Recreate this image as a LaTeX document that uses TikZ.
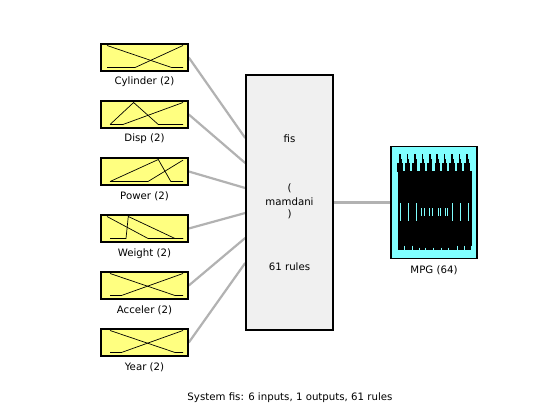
\documentclass[tikz,border=0pt]{standalone}
\usepackage{fontspec}
\setmainfont{DejaVu Sans}
\definecolor{mfyellow}{RGB}{255,255,128}
\definecolor{fisgray}{RGB}{240,240,240}
\definecolor{outcyan}{RGB}{128,255,255}
\definecolor{wiregray}{RGB}{178,178,178}
\tikzset{
  inbox/.style={draw=black,line width=1.6pt,fill=mfyellow,minimum width=87pt,minimum height=27pt,inner sep=0pt},
  fisbox/.style={draw=black,line width=1.6pt,fill=fisgray,minimum width=87pt,minimum height=255pt,inner sep=0pt},
  outbox/.style={draw=black,line width=1.6pt,fill=outcyan,minimum width=86pt,minimum height=112pt,inner sep=0pt},
  lbl/.style={font=\fontsize{10.2}{12}\selectfont,inner sep=0pt},
  wire/.style={draw=wiregray,line width=2.2pt},
  mfline/.style={draw=black,line width=0.7pt},
}
\newcommand{\mfplot}[2]{% center y, path
  \begin{scope}[xshift=107pt,yshift=-#1pt-10pt,x={(76pt,0pt)},y={(0pt,22pt)}]
    #2
  \end{scope}}
\begin{document}
\begin{tikzpicture}[x=1pt,y=-1pt]
\useasboundingbox[fill=white] (0,0) rectangle (560,420);
% nodes
\node[fisbox] (fis) at (289.5,202.5) {};
\node[inbox] (cyl) at (144.5,57.5) {};
\node[inbox] (disp) at (144.5,114.5) {};
\node[inbox] (pow) at (144.5,171.5) {};
\node[inbox] (wei) at (144.5,228.5) {};
\node[inbox] (acc) at (144.5,285.5) {};
\node[inbox] (year) at (144.5,342.5) {};
\node[outbox] (mpg) at (434,202.5) {};
% connector ends on fis box
\coordinate (e1) at (fis.west |- 0,138);
\coordinate (e2) at (fis.west |- 0,163);
\coordinate (e3) at (fis.west |- 0,188);
\coordinate (e4) at (fis.west |- 0,213);
\coordinate (e5) at (fis.west |- 0,238);
\coordinate (e6) at (fis.west |- 0,263);
% wires
\draw[wire] (cyl.east) -- (e1);
\draw[wire] (disp.east) -- (e2);
\draw[wire] (pow.east) -- (e3);
\draw[wire] (wei.east) -- (e4);
\draw[wire] (acc.east) -- (e5);
\draw[wire] (year.east) -- (e6);
\draw[wire] (fis.east) -- (mpg.west);
% redraw boxes on top of wires
\node[fisbox] at (fis) {};
\foreach \n in {cyl,disp,pow,wei,acc,year}{\node[inbox] at (\n) {};}
\node[outbox] at (mpg) {};
% membership functions
\mfplot{57.5}{\draw[mfline] (0,1)--(0.85,0)--(1,0); \draw[mfline] (0,0)--(0.37,0)--(1,1);}
\mfplot{114.5}{\draw[mfline] (0.04,0)--(0.35,1)--(0.675,0)--(1,0); \draw[mfline] (0.04,0)--(0.21,0)--(1,1);}
\mfplot{171.5}{\draw[mfline] (0.04,0)--(0.675,1)--(0.84,0)--(1,0); \draw[mfline] (0.04,0)--(0.54,0)--(1,0.97);}
\mfplot{228.5}{\draw[mfline] (0,1)--(0.54,0)--(1,0); \draw[mfline] (0.04,0)--(0.25,0)--(0.28,1)--(0.895,0)--(1,0);}
\mfplot{285.5}{\draw[mfline] (0.04,1)--(0.895,0)--(1,0); \draw[mfline] (0.04,0)--(0.19,0)--(1,1);}
\mfplot{342.5}{\draw[mfline] (0.04,1)--(0.895,0)--(1,0); \draw[mfline] (0.04,0)--(0.19,0)--(1,1);}
% output membership functions (dense comb)
\fill[black] (398,171) rectangle (472,250);
\foreach \i in {0,...,9}{
  \pgfmathsetmacro{\xx}{400+7.44*\i}
  \fill[black] (\xx-0.8,154) rectangle (\xx+0.8,172);
  \fill[black] (\xx-2.6,163) rectangle (\xx+2.6,172);
  \fill[black] (\xx+0.8,159) rectangle (\xx+1.6,172);
}
\foreach \xx in {400.3,408.7,416.3,452,460.3,468.7}{\draw[outcyan,line width=0.9pt] (\xx,203.3) -- (\xx,221);}
\foreach \xx in {421.3,424.7,429.7,432,438,440.3,445.3,447.7}{\draw[outcyan,line width=0.9pt] (\xx,208) -- (\xx,215.7);}
\foreach \xx in {404.7,412.7,457,464.7,471}{\draw[outcyan,line width=0.9pt] (\xx,245.5) -- (\xx,250);}
\foreach \xx in {419.3,425.3,433.7,441.3,448.7}{\draw[outcyan,line width=0.9pt] (\xx,247.5) -- (\xx,250);}
\node[outbox,fill=none] at (mpg) {};
% labels
\node[lbl] (lcyl) at (144.5,81.5) {Cylinder (2)};
\node[lbl] (ldisp) at (144.5,138.5) {Disp (2)};
\node[lbl] (lpow) at (144.5,196) {Power (2)};
\node[lbl] (lwei) at (144.5,253.5) {Weight (2)};
\node[lbl] (lacc) at (144.5,310.5) {Acceler (2)};
\node[lbl] (lyear) at (144.5,367.5) {Year (2)};
\node[lbl] (lmpg) at (434,270) {MPG (64)};
\node[lbl] (t1) at (289.5,138.5) {fis};
\node[lbl] (t2) at (289.5,188.5) {(};
\node[lbl] (t3) at (289.5,201.5) {mamdani};
\node[lbl] (t4) at (289.5,214.5) {)};
\node[lbl] (t5) at (289.5,267) {61 rules};
\node[lbl] (sys) at (290,397.5) {System fis: 6 inputs, 1 outputs, 61 rules};
\end{tikzpicture}
\end{document}
